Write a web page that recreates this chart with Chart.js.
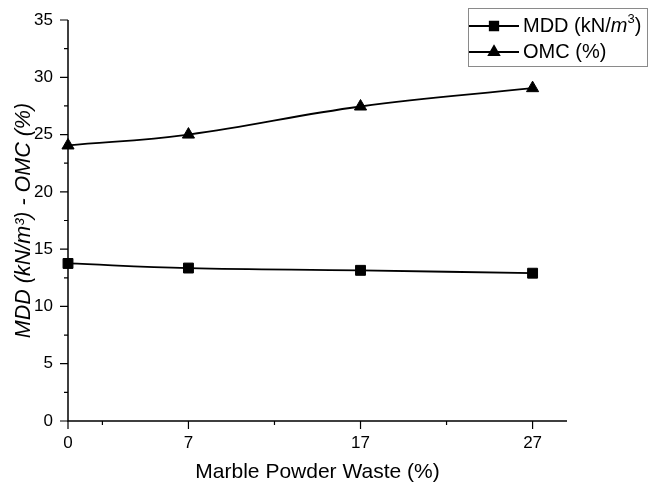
<!DOCTYPE html>
<html>
<head>
<meta charset="utf-8">
<script src="https://cdn.jsdelivr.net/npm/chart.js@4.4.0/dist/chart.umd.min.js"></script>
<style>
  html, body { margin: 0; padding: 0; background: #fff; }
  #wrap { width: 648px; height: 486px; }
</style>
</head>
<body>
<div id="wrap"><canvas id="graphe"></canvas></div>
<script>
// données
var dechetsMarbre = [0, 7, 17, 27];
var valeursMDD = [13.75, 13.35, 13.15, 12.9];
var valeursOMC = [24.05, 25.0, 27.45, 29.05];
var ticksX = [0, 7, 17, 27];
var ticksXMineurs = [2, 12, 22];
var ticksY = [0, 5, 10, 15, 20, 25, 30, 35];
var nomsSeries = ['MDD (kN/m³)', 'OMC (%)'];

var police = "'Liberation Sans', Arial, sans-serif";

// axes + petites graduations comme dans Origin
var pluginAxes = {
    id: 'axes',
    afterDraw: function(chart) {
        var ctx = chart.ctx;
        var sx = chart.scales.x, sy = chart.scales.y;
        var a = chart.chartArea;
        ctx.save();
        ctx.strokeStyle = '#000';
        ctx.lineWidth = 1.5;
        ctx.beginPath();
        ctx.moveTo(a.left, a.top);
        ctx.lineTo(a.left, a.bottom);
        ctx.lineTo(a.right, a.bottom);
        ctx.stroke();

        ctx.lineWidth = 1.2;
        ctx.beginPath();
        ticksX.forEach(function(v) {
            var px = sx.getPixelForValue(v);
            ctx.moveTo(px, a.bottom); ctx.lineTo(px, a.bottom + 8);
        });
        ticksXMineurs.forEach(function(v) {
            var px = sx.getPixelForValue(v);
            ctx.moveTo(px, a.bottom); ctx.lineTo(px, a.bottom + 4);
        });
        ticksY.forEach(function(v, i) {
            var py = sy.getPixelForValue(v);
            ctx.moveTo(a.left, py); ctx.lineTo(a.left - 8, py);
            if (i < ticksY.length - 1) {
                var pm = sy.getPixelForValue(v + 2.5);
                ctx.moveTo(a.left, pm); ctx.lineTo(a.left - 4, pm);
            }
        });
        ctx.stroke();
        ctx.restore();
    }
};

// légende encadrée en haut à droite
var pluginLegende = {
    id: 'legende',
    afterDraw: function(chart) {
        var ctx = chart.ctx;
        var styles = ['rect', 'triangle'];
        var x0 = 468, y0 = 8, w = 179, h = 58;
        ctx.save();
        ctx.fillStyle = '#fff';
        ctx.fillRect(x0, y0, w, h);
        ctx.strokeStyle = '#8a8a8a';
        ctx.lineWidth = 1;
        ctx.strokeRect(x0 + 0.5, y0 + 0.5, w, h);

        [26, 52].forEach(function(yy, i) {
            ctx.strokeStyle = '#000';
            ctx.lineWidth = 1.8;
            ctx.beginPath();
            ctx.moveTo(x0 + 1, yy); ctx.lineTo(x0 + 51, yy);
            ctx.stroke();
            ctx.fillStyle = '#000';
            Chart.helpers.drawPoint(ctx, { pointStyle: styles[i], radius: 6, rotation: 0, borderWidth: 1 }, x0 + 26, yy);
            ctx.fill();

            ctx.fillStyle = '#000';
            ctx.textBaseline = 'middle';
            ctx.textAlign = 'left';
            var tx = x0 + 55;
            if (i === 0) {
                // MDD (kN/m3) avec m en italique et 3 en exposant
                ctx.font = '20px ' + police;
                ctx.fillText('MDD (kN/', tx, yy);
                tx += ctx.measureText('MDD (kN/').width;
                ctx.font = 'italic 20px ' + police;
                ctx.fillText('m', tx, yy);
                tx += ctx.measureText('m').width;
                ctx.font = '13px ' + police;
                ctx.fillText('3', tx, yy - 7);
                tx += ctx.measureText('3').width;
                ctx.font = '20px ' + police;
                ctx.fillText(')', tx, yy);
            } else {
                ctx.font = '20px ' + police;
                ctx.fillText(nomsSeries[1], tx, yy);
            }
        });
        ctx.restore();
    }
};

var ctx = document.getElementById('graphe').getContext('2d');
var graphe = new Chart(ctx, {
    type: 'line',
    data: {
        datasets: [{
            label: nomsSeries[0],
            data: dechetsMarbre.map(function(x, i) { return { x: x, y: valeursMDD[i] }; }),
            borderColor: '#000',
            backgroundColor: '#000',
            borderWidth: 1.8,
            pointStyle: 'rect',
            pointRadius: 7,
            pointBorderWidth: 1,
            tension: 0.4,
            clip: false
        }, {
            label: nomsSeries[1],
            data: dechetsMarbre.map(function(x, i) { return { x: x, y: valeursOMC[i] }; }),
            borderColor: '#000',
            backgroundColor: '#000',
            borderWidth: 1.8,
            pointStyle: 'triangle',
            pointRadius: 7,
            pointBorderWidth: 1,
            tension: 0.4,
            clip: false
        }]
    },
    options: {
        responsive: true,
        maintainAspectRatio: false,
        animation: false,
        layout: { padding: { top: 20, right: 81, bottom: 0, left: 0 } },
        plugins: {
            legend: { display: false },
            tooltip: { enabled: false }
        },
        scales: {
            x: {
                type: 'linear',
                min: 0,
                max: 29,
                grid: { display: false },
                border: { display: false },
                afterBuildTicks: function(scale) {
                    scale.ticks = ticksX.map(function(v) { return { value: v }; });
                },
                afterFit: function(scale) { scale.height = 65; },
                ticks: {
                    color: '#000',
                    padding: 4,
                    maxRotation: 0,
                    font: { family: police, size: 17 },
                    callback: function(v) { return String(v); }
                },
                title: {
                    display: true,
                    text: 'Marble Powder Waste (%)',
                    color: '#000',
                    font: { family: police, size: 21 },
                    padding: { top: 0, bottom: 1 }
                }
            },
            y: {
                min: 0,
                max: 35,
                grid: { display: false },
                border: { display: false },
                afterBuildTicks: function(scale) {
                    scale.ticks = ticksY.map(function(v) { return { value: v }; });
                },
                afterFit: function(scale) { scale.width = 68; },
                ticks: {
                    color: '#000',
                    padding: 7,
                    font: { family: police, size: 17 }
                },
                title: {
                    display: true,
                    text: 'MDD (kN/m³) - OMC (%)',
                    color: '#000',
                    font: { family: police, size: 21.5, style: 'italic' },
                    padding: { top: 11, bottom: 0 }
                }
            }
        }
    },
    plugins: [pluginAxes, pluginLegende]
});
</script>
</body>
</html>
